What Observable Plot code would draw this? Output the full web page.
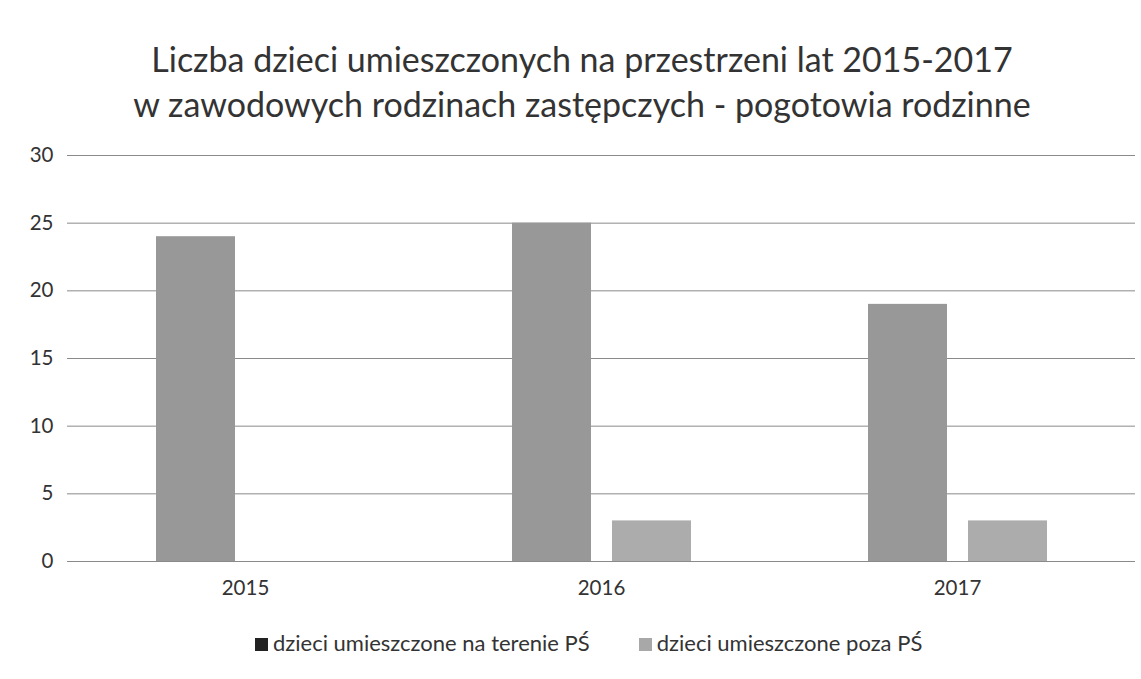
<!DOCTYPE html>
<html>
<head>
<meta charset="utf-8">
<script src="https://cdn.jsdelivr.net/npm/d3@7"></script>
<script src="https://cdn.jsdelivr.net/npm/@observablehq/plot@0.6"></script>
<style>
  html, body { margin: 0; padding: 0; background: #fff; width: 1141px; height: 679px; overflow: hidden; }
  body { position: relative; font-family: Lato, "Open Sans", sans-serif; color: #222; }
  #title { position: absolute; left: 0; top: 36px; width: 1164px; text-align: center; font-size: 34px; line-height: 45px; color: #333; }
  #chart { position: absolute; left: 0; top: 135px; }
  #legend { position: absolute; left: 255px; top: 629px; white-space: nowrap; font-size: 22px; color: #333; }
  .item { display: inline-block; }
  .item + .item { margin-left: 49px; }
  .sw { display: inline-block; width: 13px; height: 13px; margin-right: 5px; vertical-align: 0px; }
</style>
</head>
<body>
<div id="title">Liczba dzieci umieszczonych na przestrzeni lat 2015-2017<br>w zawodowych rodzinach zastępczych - pogotowia rodzinne</div>
<div id="chart"></div>
<div id="legend"></div>
<script>
const years = ["2015", "2016", "2017"];
const seriesNames = ["dzieci umieszczone na terenie PŚ", "dzieci umieszczone poza PŚ"];
const terenie = [24, 25, 19];
const poza = [0, 3, 3];
const yTicks = [0, 5, 10, 15, 20, 25, 30];
const barColors = ["#989898", "#acacac"];
const legendColors = ["#222222", "#a8a8a8"];

const data = years.flatMap((y, i) => [
  {year: y, series: seriesNames[0], value: terenie[i]},
  {year: y, series: seriesNames[1], value: poza[i]}
]);

const chart = Plot.plot({
  width: 1141,
  height: 505,
  marginTop: 20,
  marginBottom: 79,
  marginLeft: 76,
  marginRight: 16,
  style: {fontFamily: "Lato, 'Open Sans', sans-serif", fontSize: "20.5px", color: "#333", background: "transparent"},
  fx: {domain: years, paddingInner: 0, paddingOuter: -0.0267, axis: "bottom", tickSize: 0, tickPadding: 19, label: null},
  x: {domain: seriesNames, paddingInner: 0.21, paddingOuter: 0.885, axis: null},
  y: {domain: [0, 30], ticks: yTicks, tickSize: 0, tickPadding: 14, label: null},
  color: {domain: seriesNames, range: barColors},
  marks: [
    Plot.ruleY(yTicks, {stroke: "#8a8a8a", strokeWidth: 1}),
    Plot.barY(data, {fx: "year", x: "series", y: "value", fill: "series"})
  ]
});
document.getElementById("chart").appendChild(chart);

const legend = document.getElementById("legend");
seriesNames.forEach((name, i) => {
  const item = document.createElement("span");
  item.className = "item";
  const sw = document.createElement("span");
  sw.className = "sw";
  sw.style.background = legendColors[i];
  item.appendChild(sw);
  item.appendChild(document.createTextNode(name));
  legend.appendChild(item);
});
</script>
</body>
</html>
